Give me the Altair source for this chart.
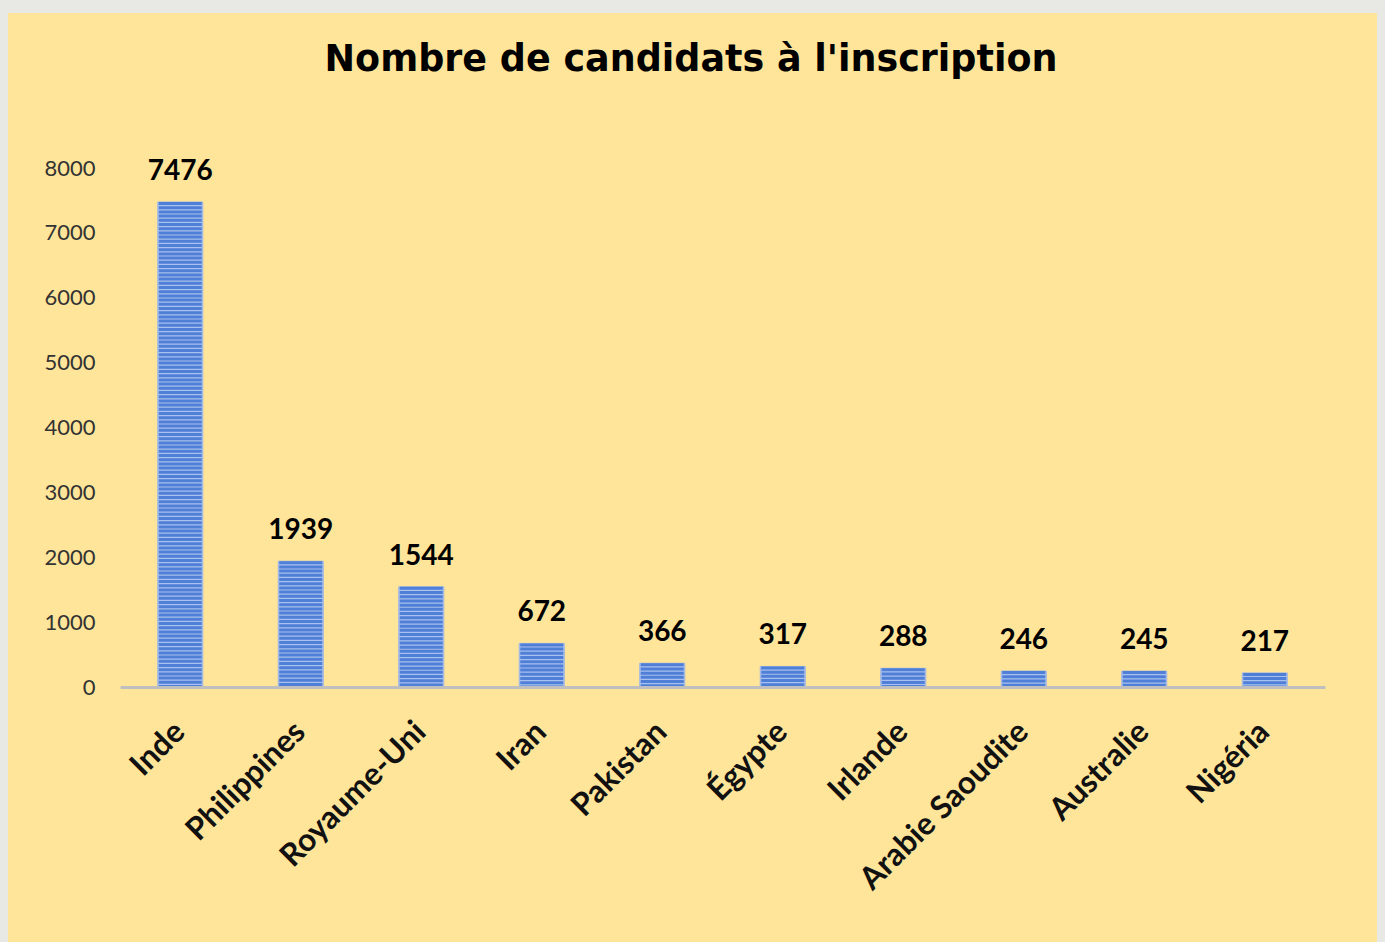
import altair as alt
import pandas as pd

countries = ["Inde", "Philippines", "Royaume-Uni", "Iran", "Pakistan",
             "Égypte", "Irlande", "Arabie Saoudite", "Australie", "Nigéria"]
values = [7476, 1939, 1544, 672, 366, 317, 288, 246, 245, 217]
y_ticks = [0, 1000, 2000, 3000, 4000, 5000, 6000, 7000, 8000]
title_text = "Nombre de candidats à l'inscription"

df = pd.DataFrame({"pays": countries, "n": values})

W, H = 1205, 519
PAD_L, PAD_T = 120, 168
BAR_W = 45
p_in = 1 - BAR_W / (W / len(countries))

x_enc = alt.X(
    "pays:N", sort=countries,
    scale=alt.Scale(paddingInner=p_in, paddingOuter=p_in / 2),
    axis=alt.Axis(title=None, labelAngle=-45, labelAlign="right", labelBaseline="middle",
                  labelPadding=40, ticks=False, domainColor="#bfbfbf", domainWidth=3,
                  labelFont="Lato", labelFontSize=31.5, labelFontWeight="bold",
                  labelColor="#111111", labelLimit=500, zindex=1),
)
y_enc = alt.Y(
    "n:Q", scale=alt.Scale(domain=[0, 8000]),
    axis=alt.Axis(title=None, values=y_ticks, format="d", grid=False, domain=False,
                  ticks=False, labelPadding=25, labelFont="Lato", labelFontSize=22,
                  labelColor="#333333", zindex=1),
)

panel = alt.Chart(pd.DataFrame({"k": [0]})).mark_rect(color="#ffe599").encode(
    x=alt.value(8 - PAD_L), x2=alt.value(1377 - PAD_L),
    y=alt.value(13 - PAD_T), y2=alt.value(942 - PAD_T),
)

base = alt.Chart(df)
bars = base.mark_bar(color="#a9c1ee", stroke="#9bb4e6", strokeWidth=1).encode(x=x_enc, y=y_enc)
stripes = base.mark_rule(color="#4f7fd6", strokeWidth=BAR_W - 2, strokeDash=[3, 1.2],
                         strokeCap="butt").encode(
    x=x_enc, y=y_enc, y2=alt.datum(0)
)
labels = base.mark_text(baseline="bottom", dy=-16, font="Lato", fontSize=28,
                        fontWeight="bold", color="#000000").encode(
    x=x_enc, y=y_enc, text=alt.Text("n:Q")
)

title = alt.Chart(pd.DataFrame({"t": [title_text]})).mark_text(
    font="DejaVu Sans", fontSize=36.5, fontWeight="bold", color="#000000",
    align="center", baseline="alphabetic"
).encode(x=alt.value(691 - PAD_L), y=alt.value(71 - PAD_T), text="t:N")

chart = alt.layer(panel, bars, stripes, labels, title).properties(
    width=W, height=H,
    padding={"left": PAD_L, "top": PAD_T, "right": 1385 - PAD_L - W, "bottom": 942 - PAD_T - H},
    autosize=alt.AutoSizeParams(type="none"),
    background="#e8e9e4",
).configure_view(stroke=None)

chart.save("out.html", embed_options={"renderer": "svg", "actions": False})
